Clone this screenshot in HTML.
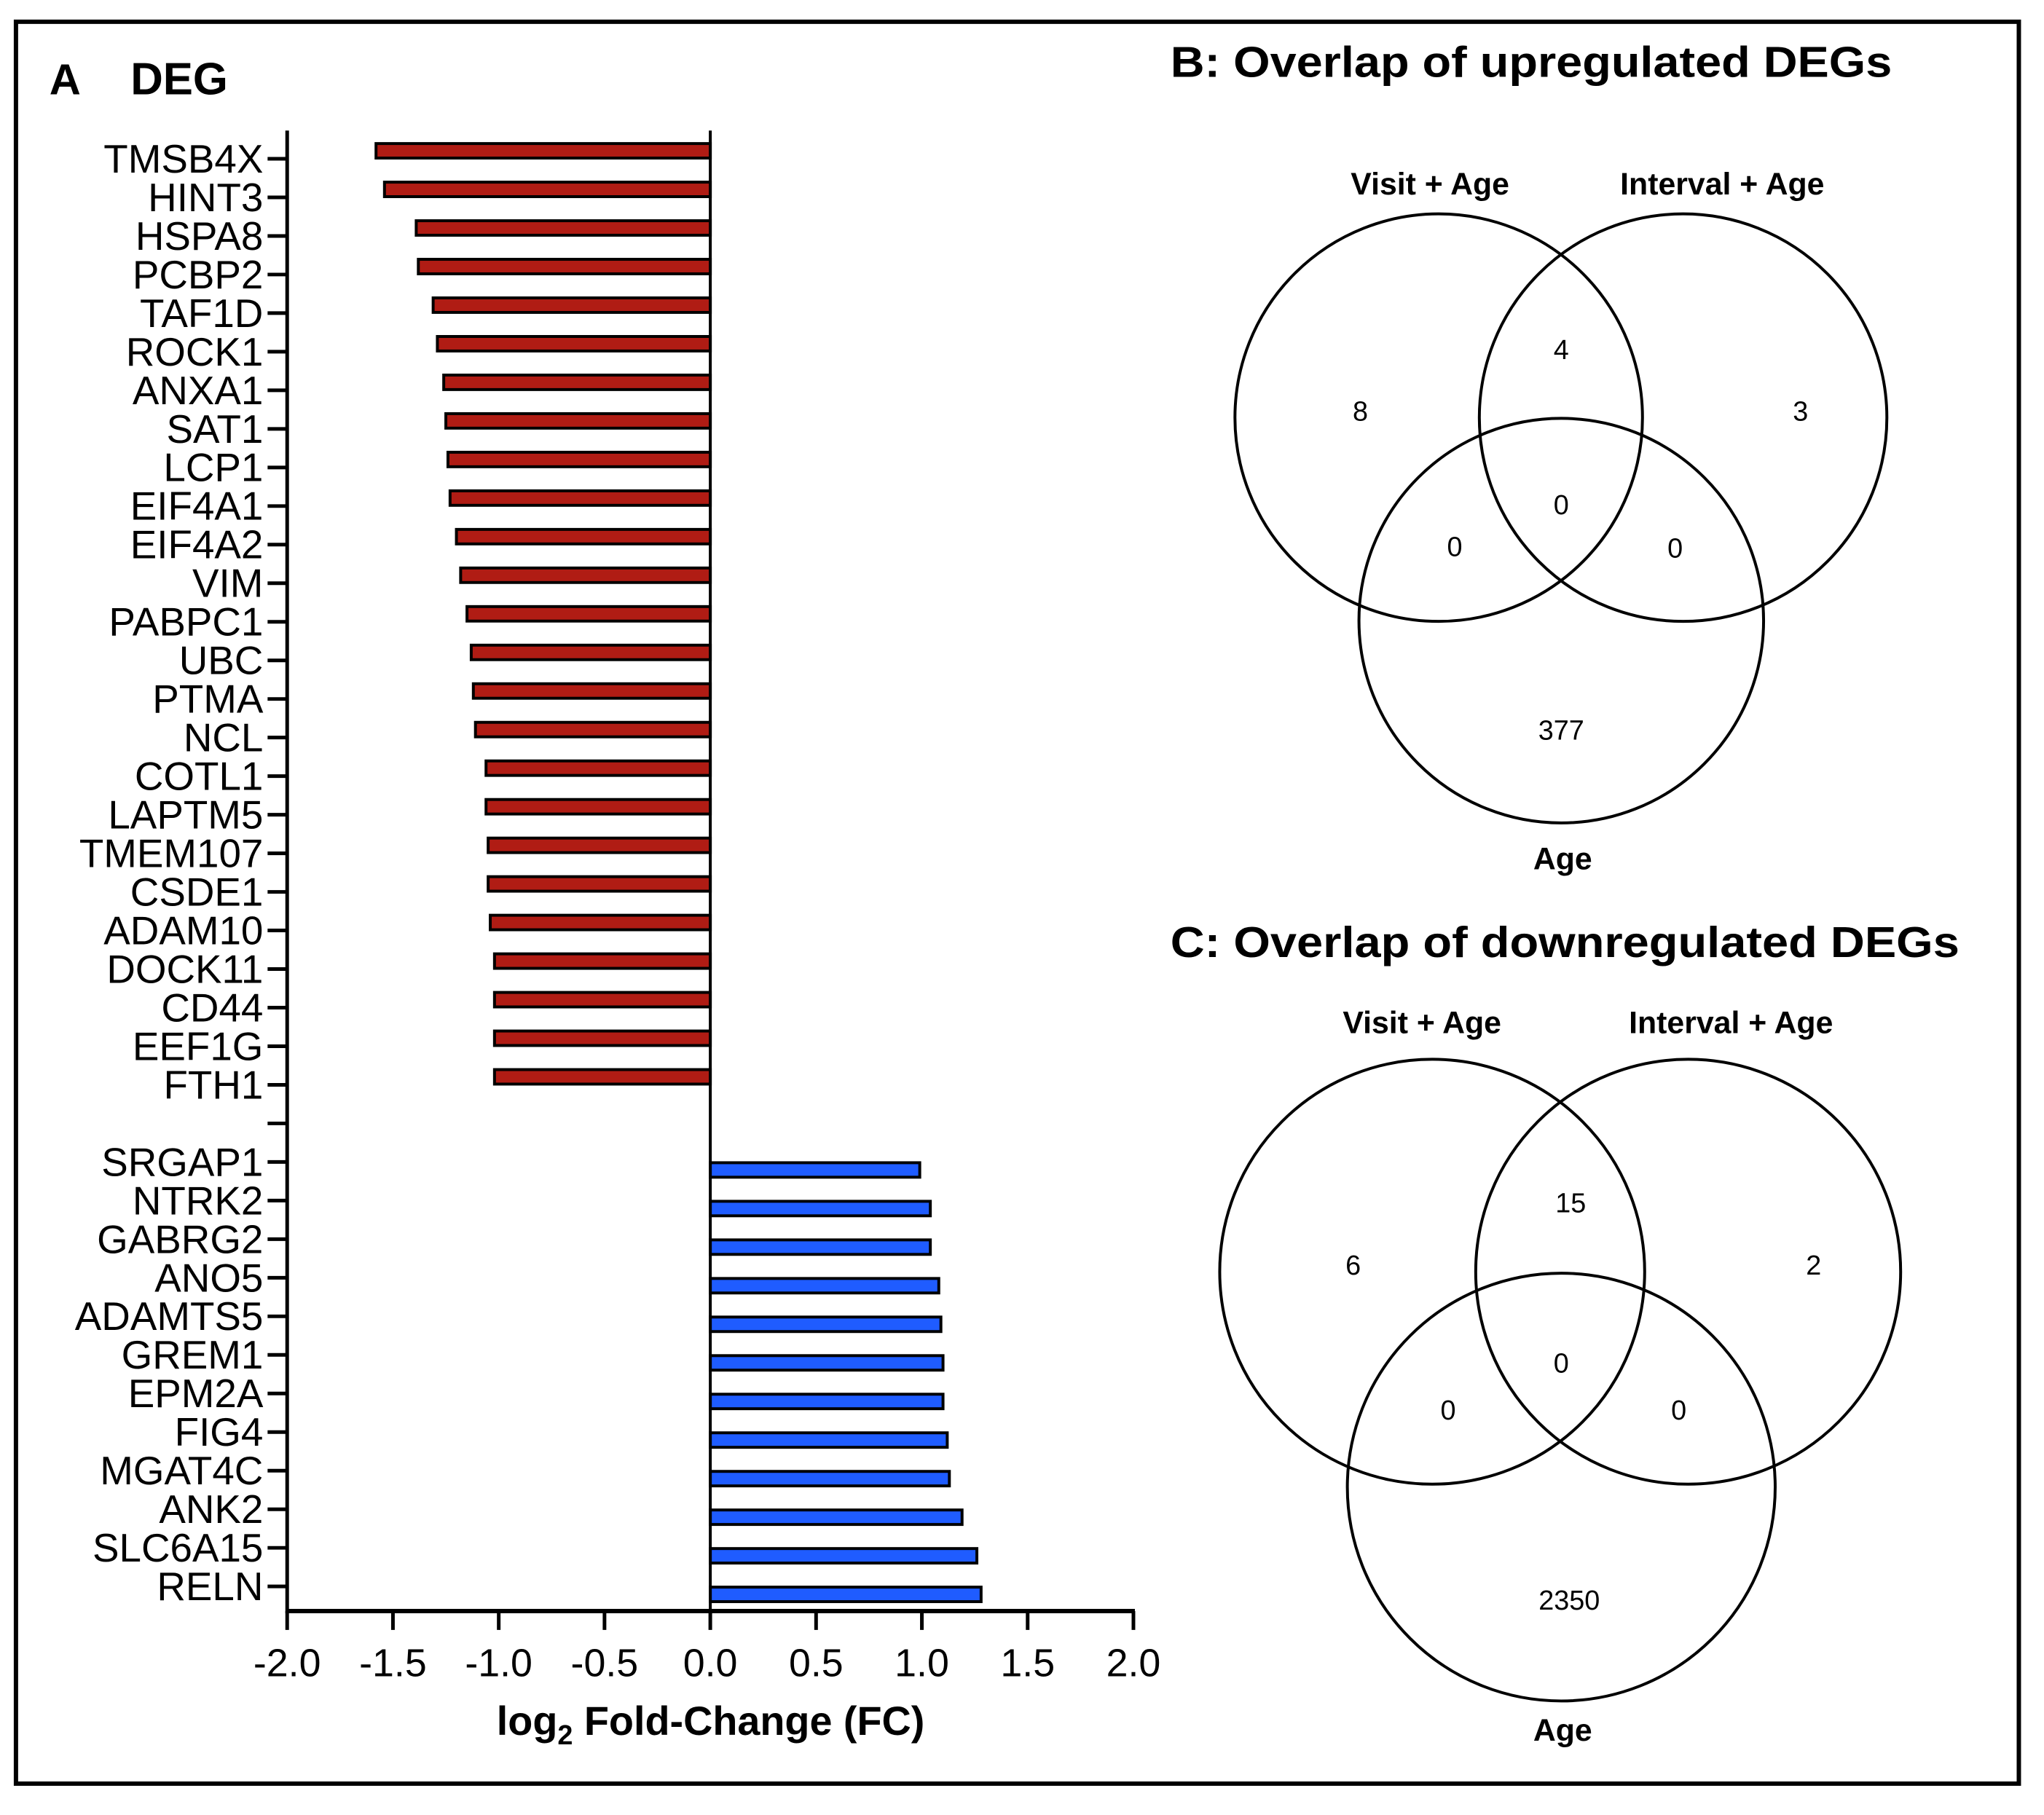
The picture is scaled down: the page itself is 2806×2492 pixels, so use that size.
<!DOCTYPE html>
<html><head><meta charset="utf-8"><style>
html,body{margin:0;padding:0;background:#fff;}
svg{display:block;font-family:"Liberation Sans",Arial,sans-serif;}
</style></head><body>
<svg id="fig" width="2806" height="2492" viewBox="0 0 2806 2492" xmlns="http://www.w3.org/2000/svg">
<g transform="scale(0.9955)">
<rect x="22" y="30" width="2762" height="2430" fill="none" stroke="#000" stroke-width="6"/>
<text x="68" y="130" font-size="60" font-weight="bold">A</text>
<text x="180" y="130" font-size="62" font-weight="bold">DEG</text>
<g id="chart"></g>
<text x="980" y="2393" font-size="56" font-weight="bold" text-anchor="middle">log<tspan font-size="38" dy="13">2</tspan><tspan dy="-13"> Fold-Change  (FC)</tspan></text>

<g fill="none" stroke="#000" stroke-width="4">
<text x="1614" y="106" font-size="60" font-weight="bold" fill="#000" stroke="none" textLength="995" lengthAdjust="spacingAndGlyphs">B: Overlap of upregulated DEGs</text>
<circle cx="1984" cy="576" r="281"/>
<circle cx="2321" cy="576" r="281"/>
<circle cx="2153" cy="856" r="279"/>
<g fill="#000" stroke="none" font-size="43" font-weight="bold" text-anchor="middle">
<text x="1972" y="268">Visit + Age</text>
<text x="2375" y="268">Interval + Age</text>
<text x="2155" y="1199">Age</text>
</g>
<g fill="#000" stroke="none" font-size="38" text-anchor="middle">
<text x="1876" y="580">8</text>
<text x="2153" y="495">4</text>
<text x="2483" y="580">3</text>
<text x="2153" y="709">0</text>
<text x="2006" y="767">0</text>
<text x="2310" y="769">0</text>
<text x="2153" y="1020">377</text>
</g>
</g>

<g fill="none" stroke="#000" stroke-width="4">
<text x="1614" y="1320" font-size="60" font-weight="bold" fill="#000" stroke="none" textLength="1088" lengthAdjust="spacingAndGlyphs">C: Overlap of downregulated DEGs</text>
<circle cx="1975" cy="1754" r="293"/>
<circle cx="2328" cy="1754" r="293"/>
<circle cx="2153" cy="2051" r="295"/>
<g fill="#000" stroke="none" font-size="43" font-weight="bold" text-anchor="middle">
<text x="1961" y="1425">Visit + Age</text>
<text x="2387" y="1425">Interval + Age</text>
<text x="2155" y="2401">Age</text>
</g>
<g fill="#000" stroke="none" font-size="38" text-anchor="middle">
<text x="1866" y="1758">6</text>
<text x="2166" y="1672">15</text>
<text x="2501" y="1758">2</text>
<text x="2153" y="1893">0</text>
<text x="1997" y="1958">0</text>
<text x="2315" y="1958">0</text>
<text x="2164" y="2220">2350</text>
</g>
</g>
</g>
</svg>
<script>
const downGenes = ["TMSB4X","HINT3","HSPA8","PCBP2","TAF1D","ROCK1","ANXA1","SAT1","LCP1","EIF4A1","EIF4A2","VIM","PABPC1","UBC","PTMA","NCL","COTL1","LAPTM5","TMEM107","CSDE1","ADAM10","DOCK11","CD44","EEF1G","FTH1"];
const downValues = [-1.58,-1.54,-1.39,-1.38,-1.31,-1.29,-1.26,-1.25,-1.24,-1.23,-1.20,-1.18,-1.15,-1.13,-1.12,-1.11,-1.06,-1.06,-1.05,-1.05,-1.04,-1.02,-1.02,-1.02,-1.02];
const upGenes = ["SRGAP1","NTRK2","GABRG2","ANO5","ADAMTS5","GREM1","EPM2A","FIG4","MGAT4C","ANK2","SLC6A15","RELN"];
const upValues = [0.99,1.04,1.04,1.08,1.09,1.10,1.10,1.12,1.13,1.19,1.26,1.28];
const xTicks = [-2.0,-1.5,-1.0,-0.5,0.0,0.5,1.0,1.5,2.0];
const xTickLabels = ["-2.0","-1.5","-1.0","-0.5","0.0","0.5","1.0","1.5","2.0"];

const NS="http://www.w3.org/2000/svg";
const g=document.getElementById('chart');
const X0=396,X1=1563,Y0=180,Y1=2222,firstTick=219,lastTick=2188;
const nSlots=downGenes.length+1+upGenes.length;
const step=(lastTick-firstTick)/(nSlots-1);
function xs(v){return X0+(v-(-2))/4*(X1-X0);}
function ys(i){return firstTick+i*step;}
function mk(tag,attrs){const e=document.createElementNS(NS,tag);for(const k in attrs)e.setAttribute(k,attrs[k]);g.appendChild(e);return e;}

function drawBar(v,i,off,color,name){
  const a=xs(0),b=xs(v);
  const r=mk('rect',{x:Math.min(a,b),y:ys(i)+off-10,width:Math.abs(b-a),height:20,fill:color,stroke:'#000','stroke-width':4});
  
  
}
function drawLabel(i,txt){
  const tk=mk('line',{x1:369,x2:396,y1:ys(i),y2:ys(i),stroke:'#000','stroke-width':5});
  
  
  if(txt){
    const l=mk('text',{x:363,y:ys(i)+19,'font-size':55,'text-anchor':'end'});
    l.textContent=txt;
    
    
  }
}
downGenes.forEach((n,i)=>{drawBar(downValues[i],i,-11,'#b01c14',n);drawLabel(i,n);});
drawLabel(downGenes.length,'');
upGenes.forEach((n,j)=>{const i=downGenes.length+1+j;drawBar(upValues[j],i,11,'#1f5cff',n);drawLabel(i,n);});

const ya=mk('line',{x1:X0,x2:X0,y1:Y0,y2:Y1+3,stroke:'#000','stroke-width':5});


const zl=mk('line',{x1:xs(0),x2:xs(0),y1:Y0,y2:Y1,stroke:'#000','stroke-width':4});


const xa=mk('line',{x1:X0-2,x2:X1+2,y1:Y1,y2:Y1,stroke:'#000','stroke-width':6});


xTicks.forEach((v,k)=>{
  const t=mk('line',{x1:xs(v),x2:xs(v),y1:Y1,y2:Y1+26,stroke:'#000','stroke-width':5});
  
  
  const l=mk('text',{x:xs(v),y:2312,'font-size':54,'text-anchor':'middle'});
  l.textContent=xTickLabels[k];
  
  
});
</script>
</body></html>
